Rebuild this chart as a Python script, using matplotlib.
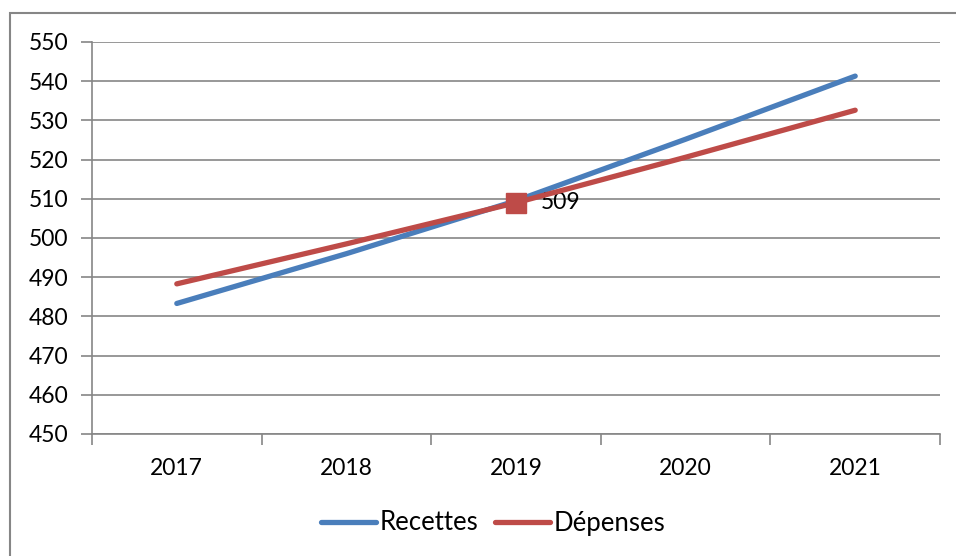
import matplotlib.pyplot as plt
from matplotlib.patches import Rectangle

# Recettes / Dépenses 2017-2021
annees = ['2017', '2018', '2019', '2020', '2021']
recettes = [483.3, 496.0, 509.5, 525.2, 541.3]
depenses = [488.3, 498.5, 509.0, 520.6, 532.6]
idx_label = 2  # valeur affichée sur la série dépenses

plt.rcParams['font.family'] = ['Lato', 'DejaVu Sans']

W, H = 956, 556
fig = plt.figure(figsize=(W / 100, H / 100), dpi=100)
ax = fig.add_axes([92 / W, 1 - 434 / H, (940 - 92) / W, (434 - 42) / H])

gris = '#868686'
bleu = '#4A7EBB'
rouge = '#BE4B48'
fs = 16.5

x = list(range(len(annees)))
ax.plot(x, recettes, color=bleu, lw=3.8, solid_capstyle='round', label='Recettes', zorder=3)
ax.plot(x, depenses, color=rouge, lw=3.8, solid_capstyle='round', label='Dépenses', zorder=4)
ax.plot(x[idx_label], depenses[idx_label], marker='s', ms=14.5, color=rouge, mec=rouge, zorder=5)
ax.annotate(f'{depenses[idx_label]:.0f}', (x[idx_label], depenses[idx_label]),
            xytext=(18, 0), textcoords='offset points', va='center', ha='left', fontsize=fs)

ax.set_xlim(-0.5, len(annees) - 0.5)
ax.set_ylim(450, 550)
ax.set_yticks(range(450, 551, 10))
ax.yaxis.grid(True, color=gris, lw=1.2)
ax.set_axisbelow(True)

# catégories centrées, graduations entre les catégories
ax.set_xticks([i - 0.5 for i in range(len(annees) + 1)])
ax.set_xticklabels([])
ax.set_xticks(x, minor=True)
ax.set_xticklabels(annees, minor=True, fontsize=fs)
ax.tick_params(axis='x', which='major', length=8, width=1.2, color=gris, direction='out')
ax.tick_params(axis='x', which='minor', length=0, pad=17)
ax.tick_params(axis='y', length=8, width=1.2, color=gris, labelsize=fs, pad=9)

for s in ['top', 'right']:
    ax.spines[s].set_visible(False)
for s in ['left', 'bottom']:
    ax.spines[s].set_color(gris)
    ax.spines[s].set_linewidth(1.2)

leg = fig.legend(loc='center', bbox_to_anchor=(493 / W, 1 - 523 / H), ncol=2, frameon=False,
                 fontsize=18.5, handlelength=2.15, handletextpad=0.12, columnspacing=0.65)

# cadre extérieur du graphique
fig.patches.append(Rectangle((9.5 / W, -0.05), 1.2, 1 - 13 / H + 0.05, transform=fig.transFigure,
                             fill=False, ec=gris, lw=1.5))

fig.savefig('out.png', dpi=100)
